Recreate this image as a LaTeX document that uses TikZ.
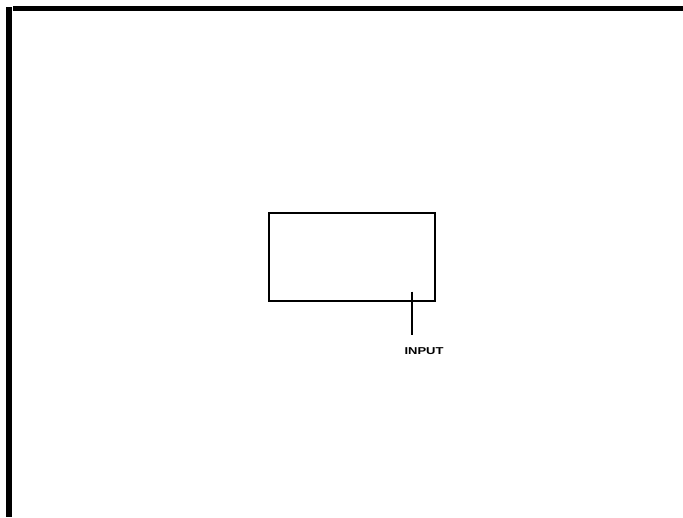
\documentclass[tikz,border=0pt]{standalone}
\usepackage{fontspec}
\setmainfont{Liberation Sans}
\begin{document}
\begin{tikzpicture}[x=1pt,y=-1pt,
  bar/.style={fill=black,draw=none},
  blockbox/.style={draw=black,line width=1.2pt,minimum width=166pt,minimum height=88pt,inner sep=0pt},
  lbl/.style={font=\bfseries\fontsize{10}{10}\selectfont,inner sep=0pt,xscale=1.3}]
\useasboundingbox[fill=white] (0,0) rectangle (683,517);
\fill[bar] (13,6) rectangle (683,11);
\fill[bar] (6,7) rectangle (12,517);
\node[blockbox] (box) at (352,257) {};
\coordinate (inend) at (412,335);
\node[lbl] (input) at (424,351.5) {INPUT};
\draw[line width=1.2pt] (box.south -| inend) ++(0,-10) -- (inend);
\end{tikzpicture}
\end{document}
